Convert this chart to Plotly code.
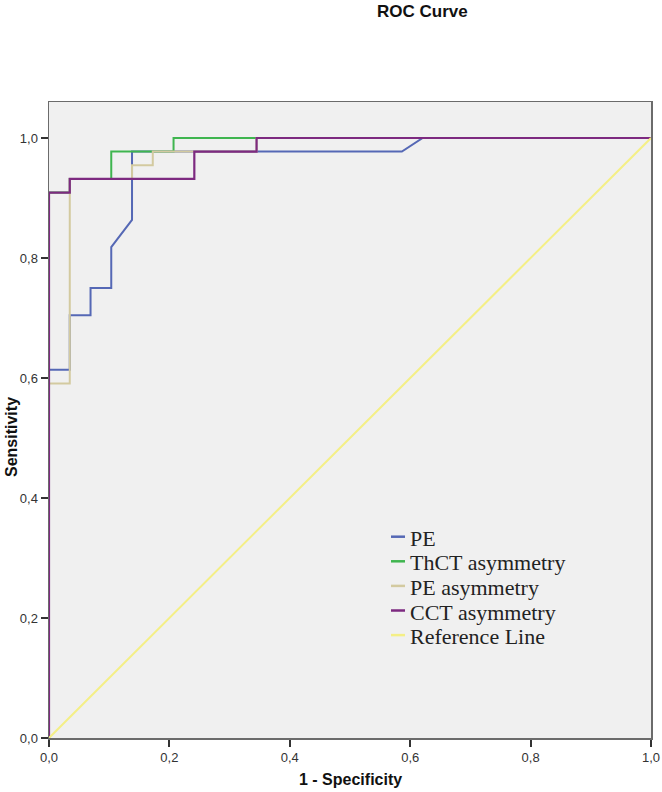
import plotly.graph_objects as go

# ROC data (1 - specificity, sensitivity)
pe_x = [0.0, 0.0, 0.0345, 0.0345, 0.069, 0.069, 0.1034, 0.1034, 0.1379, 0.1379, 0.5862, 0.6207, 1.0]
pe_y = [0.0, 0.6136, 0.6136, 0.7045, 0.7045, 0.75, 0.75, 0.8182, 0.8636, 0.9773, 0.9773, 1.0, 1.0]

thct_x = [0.0, 0.0, 0.0345, 0.0345, 0.1034, 0.1034, 0.2069, 0.2069, 1.0]
thct_y = [0.0, 0.9091, 0.9091, 0.9318, 0.9318, 0.9773, 0.9773, 1.0, 1.0]

peasym_x = [0.0, 0.0, 0.0345, 0.0345, 0.1379, 0.1379, 0.1724, 0.1724, 0.3448, 0.3448, 1.0]
peasym_y = [0.0, 0.5909, 0.5909, 0.9318, 0.9318, 0.9545, 0.9545, 0.9773, 0.9773, 1.0, 1.0]

cct_x = [0.0, 0.0, 0.0345, 0.0345, 0.2414, 0.2414, 0.3448, 0.3448, 1.0]
cct_y = [0.0, 0.9091, 0.9091, 0.9318, 0.9318, 0.9773, 0.9773, 1.0, 1.0]

ref_x = [0.0, 1.0]
ref_y = [0.0, 1.0]

series_names = ["PE", "ThCT asymmetry", "PE asymmetry", "CCT asymmetry", "Reference Line"]
series_colors = ["#5568b5", "#3fb54f", "#d3caa0", "#7d2a80", "#f4ef86"]
series_widths = [2, 2, 2, 2.2, 2]
series_x = [pe_x, thct_x, peasym_x, cct_x, ref_x]
series_y = [pe_y, thct_y, peasym_y, cct_y, ref_y]

tick_vals = [0.0, 0.2, 0.4, 0.6, 0.8, 1.0]

W, H = 662, 792
L, R, T, B = 49, 11, 102, 54
PW, PH = W - L - R, H - T - B


def px2x(px):
    return (px - L) / PW


def py2y(py):
    return (H - B - py) / PH


fig = go.Figure()
for xs, ys, name, col, lw in zip(series_x, series_y, series_names, series_colors, series_widths):
    fig.add_trace(go.Scatter(x=xs, y=ys, mode="lines", name=name,
                             line=dict(color=col, width=lw), showlegend=False,
                             hoverinfo="skip"))

axis_common = dict(
    showgrid=False, zeroline=False, showline=True, mirror=True,
    linecolor="#6b6b6b", linewidth=1.5, automargin=False,
    ticks="outside", ticklen=7, tickwidth=2, tickcolor="#333333",
    tickfont=dict(family="Liberation Sans, Arial", size=13, color="#333333"),
    tickformat=".1f", tickvals=tick_vals, layer="below traces",
)

fig.update_layout(
    width=W, height=H, autosize=False,
    margin=dict(l=L, r=R, t=T, b=B, pad=0, autoexpand=False),
    paper_bgcolor="white", plot_bgcolor="#f0f0f0",
    separators=",.",
    showlegend=False,
    xaxis=dict(range=[0, 1.0], **axis_common),
    yaxis=dict(range=[0, 1.06], **axis_common),
)

annotations = [
    dict(text="<b>ROC Curve</b>", x=px2x(422), y=py2y(12), xref="paper", yref="paper",
         showarrow=False, xanchor="center", yanchor="middle",
         font=dict(family="Liberation Sans, Arial", size=17, color="#111111")),
    dict(text="<b>1 - Specificity</b>", x=px2x(350), y=py2y(779), xref="paper", yref="paper",
         showarrow=False, xanchor="center", yanchor="middle",
         font=dict(family="Liberation Sans, Arial", size=16, color="#111111")),
    dict(text="<b>Sensitivity</b>", x=px2x(12), y=py2y(437), xref="paper", yref="paper",
         showarrow=False, xanchor="center", yanchor="middle", textangle=-90,
         font=dict(family="Liberation Sans, Arial", size=16, color="#111111")),
]

shapes = []
for i, (name, col) in enumerate(zip(series_names, series_colors)):
    ypx = 536.7 + 24.6 * i
    shapes.append(dict(type="line", xref="paper", yref="paper",
                       x0=px2x(391), x1=px2x(405), y0=py2y(ypx), y1=py2y(ypx),
                       line=dict(color=col, width=2.5)))
    annotations.append(dict(text=name, x=px2x(408), y=py2y(ypx + 1.5), xref="paper", yref="paper",
                            showarrow=False, xanchor="left", yanchor="middle",
                            font=dict(family="Liberation Serif, Times New Roman", size=22,
                                      color="#222222")))

fig.update_layout(annotations=annotations, shapes=shapes)

fig.write_html(
    "out.html",
    config={"responsive": False, "displayModeBar": False, "staticPlot": True},
    post_script="document.body.style.margin='0';document.body.style.overflow='hidden';",
)
